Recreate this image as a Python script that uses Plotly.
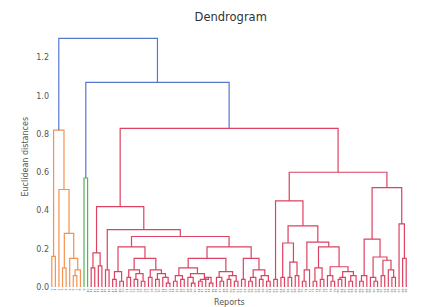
import plotly.graph_objects as go

# ---- data: dendrogram merges; leaf = int label, node = [height, left, right] ----
ORANGE = [0.82, [0.16, 0, 1],
          [0.51, 2, [0.28, [0.10, 3, 4], [0.15, 5, [0.09, [0.06, 6, 7], 8]]]]]
GREEN = [0.57, 9, 10]

RED_A = [0.178, [0.10, 11, 12], [0.11, 13, 14]]
RED_B1 = [0.09, 15, 16]
RED_B2A = [0.21, [0.08, [0.04, 17, 18], [0.03, 19, 20]],
           [0.15, [0.09, [0.05, 21, 22], [0.07, [0.04, 23, 24], [0.03, 25, 26]]],
                  [0.09, [0.05, 27, 28], [0.07, [0.04, 29, 30], [0.05, 31, [0.02, 32, 33]]]]]]
RED_B2B = [0.21,
           [0.15,
            [0.10, [0.06, [0.03, 34, 35], [0.04, 36, 37]],
                   [0.07, [0.05, 38, [0.02, 39, 40]], [0.04, [0.03, 41, 42], [0.05, 43, [0.02, 44, 45]]]]],
            [0.08, [0.05, 46, [0.03, 47, 48]], [0.06, [0.04, 49, 50], [0.03, 51, 52]]]],
           [0.15, [0.04, 53, 54],
                  [0.09, [0.05, [0.03, 55, 56], 57], [0.06, [0.04, 58, 59], [0.03, 60, 61]]]]]
RED_S = [0.23, [0.05, 64, 65], [0.13, [0.05, 66, 67], [0.06, 68, 69]]]
RED_T = [0.235, [0.09, [0.03, 70, 71], 72],
         [0.21, [0.10, [0.03, 73, 74], [0.04, 75, 76]],
                [0.106, [0.06, 77, [0.03, 78, 79]],
                        [0.08, [0.05, [0.04, 80, 81], 82], [0.06, [0.03, 83, 84], 85]]]]]
RED_RR = [0.52,
          [0.25, [0.06, [0.03, 86, 87], 88],
                 [0.157, [0.05, 89, [0.03, 90, 91]],
                         [0.14, [0.06, 92, 93], [0.09, 94, [0.05, 95, 96]]]]],
          [0.33, 97, [0.15, 98, 99]]]

RED_LEFT = [0.42, RED_A, [0.30, RED_B1, [0.264, RED_B2A, RED_B2B]]]
RED_RIGHT = [0.60, [0.45, [0.04, 62, 63], [0.32, RED_S, RED_T]], RED_RR]
RED = [0.83, RED_LEFT, RED_RIGHT]

TOP_HEIGHTS = [1.30, 1.07]
TREE = [TOP_HEIGHTS[0], ORANGE, [TOP_HEIGHTS[1], GREEN, RED]]

COLORS = {"blue": "#5577cc", "orange": "#f39250", "green": "#55b55a", "red": "#dc4262"}
CLUSTER_COLOR = {id(ORANGE): "orange", id(GREEN): "green", id(RED): "red"}

# ---- build segments ----
segs = {k: ([], []) for k in COLORS}
leaf_x, leaf_lab = [], []


def walk(node, color):
    if isinstance(node, int):
        x = 5 + 10 * len(leaf_x)
        leaf_x.append(x)
        leaf_lab.append(str(node))
        return x, 0.0
    color = CLUSTER_COLOR.get(id(node), color)
    h, left, right = node
    xl, hl = walk(left, color)
    xr, hr = walk(right, color)
    xs, ys = segs[color]
    xs += [xl, xl, xr, xr, None]
    ys += [hl, h, h, hr, None]
    return (xl + xr) / 2, h


walk(TREE, "blue")

fig = go.Figure()
for c in ["orange", "green", "red", "blue"]:
    xs, ys = segs[c]
    fig.add_trace(go.Scatter(x=xs, y=ys, mode="lines", line=dict(color=COLORS[c], width=1.2),
                             hoverinfo="skip", showlegend=False))

n = len(leaf_x)
# page body has an 8px margin, so the figure is made 8px smaller and offset
fig.update_layout(
    width=435, height=299,
    margin=dict(l=42, r=35, t=18, b=20),
    paper_bgcolor="white", plot_bgcolor="white",
    font=dict(family="DejaVu Sans", color="#444"),
    title=dict(text="Dendrogram", x=0.512, xanchor="center", y=0.97, yanchor="middle",
               font=dict(size=11.5, color="#333")),
    xaxis=dict(range=[0, 10 * n], tickmode="array", tickvals=leaf_x, ticktext=leaf_lab,
               tickangle=-90, tickfont=dict(size=3, color="#666"), showgrid=False,
               zeroline=False, showline=False, ticks="", automargin=False),
    yaxis=dict(range=[0, TOP_HEIGHTS[0] * 1.05], tickvals=[0, 0.2, 0.4, 0.6, 0.8, 1.0, 1.2],
               tickformat=".1f", tickfont=dict(size=8, color="#555"), showgrid=False,
               zeroline=False, showline=False, ticks="", automargin=False),
    annotations=[
        dict(text="Reports", xref="paper", yref="paper", x=0.5, y=0, yanchor="top",
             yshift=-9, showarrow=False, font=dict(size=8, color="#555")),
        dict(text="Euclidean distances", xref="paper", yref="paper", x=0, y=0.5,
             xanchor="center", yanchor="middle", xshift=-25, textangle=-90,
             showarrow=False, font=dict(size=8, color="#555")),
    ],
)

fig.write_html("out.html")
